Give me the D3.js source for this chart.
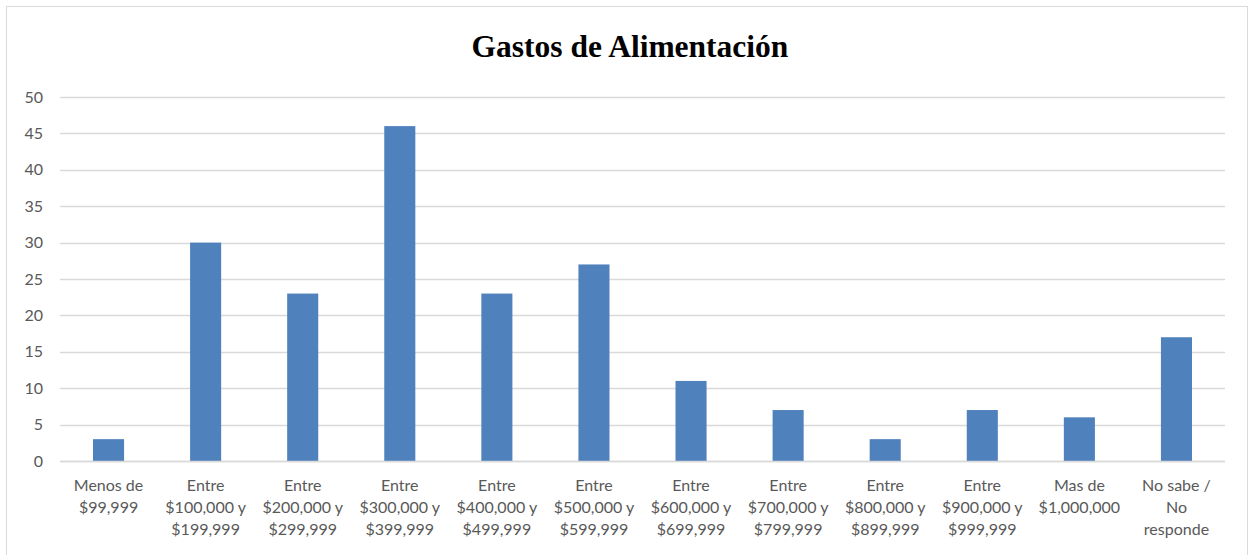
<!DOCTYPE html>
<html lang="es">
<head>
	<meta charset="UTF-8">
	<title>Gastos de Alimentación</title>
	<style>
		body{margin:0;background:#fff;}
	</style>
</head>
<body>
	<script src="https://d3js.org/d3.v7.min.js"></script>
	<script type="text/javascript">
		// datos
		var categorias = [
			["Menos de","$99,999"],
			["Entre","$100,000 y","$199,999"],
			["Entre","$200,000 y","$299,999"],
			["Entre","$300,000 y","$399,999"],
			["Entre","$400,000 y","$499,999"],
			["Entre","$500,000 y","$599,999"],
			["Entre","$600,000 y","$699,999"],
			["Entre","$700,000 y","$799,999"],
			["Entre","$800,000 y","$899,999"],
			["Entre","$900,000 y","$999,999"],
			["Mas de","$1,000,000"],
			["No sabe /","No","responde"]
		];
		var valores = [3, 30, 23, 46, 23, 27, 11, 7, 3, 7, 6, 17];
		var ticks = [0, 5, 10, 15, 20, 25, 30, 35, 40, 45, 50];

		var W = 1252, H = 555;
		var svg = d3.select("body").append("svg").attr("width",W).attr("height",H);

		// borde del grafico
		svg.append("rect").attr("x",6.5).attr("y",6.5).attr("width",1241).attr("height",560)
			.attr("fill","none").attr("stroke","#d9d9d9").attr("stroke-width",1);

		svg.append("text").attr("x",630).attr("y",57).attr("text-anchor","middle")
			.attr("font-family","'Liberation Serif','Times New Roman',serif")
			.attr("font-weight","bold").attr("font-size",31.5).attr("fill","#000")
			.text("Gastos de Alimentación");

		var x = d3.scaleBand().domain(d3.range(categorias.length)).range([60,1225]).paddingInner(0.68).paddingOuter(0.34);
		var y = d3.scaleLinear().domain([0,50]).range([461,97]);

		// lineas de cuadricula
		svg.selectAll(".grid").data(ticks).enter().append("line").attr("class","grid")
			.attr("x1",60).attr("x2",1225)
			.attr("y1",function(d){ return Math.round(y(d))+0.5; })
			.attr("y2",function(d){ return Math.round(y(d))+0.5; })
			.attr("stroke","#d9d9d9").attr("stroke-width",1.3);

		svg.selectAll(".ylab").data(ticks).enter().append("text").attr("class","ylab")
			.attr("x",43).attr("y",function(d){ return y(d)+5.5; })
			.attr("text-anchor","end")
			.attr("font-family","Lato,'Open Sans',sans-serif").attr("font-size",16).attr("fill","#595959")
			.text(function(d){ return d; });

		svg.selectAll(".bar").data(valores).enter().append("rect").attr("class","bar")
			.attr("x",function(d,i){ return x(i); })
			.attr("width",x.bandwidth())
			.attr("y",function(d){ return y(d); })
			.attr("height",function(d){ return y(0)-y(d); })
			.attr("fill","#4f81bd");

		// linea base
		svg.append("line").attr("x1",60).attr("x2",1225).attr("y1",461.5).attr("y2",461.5)
			.attr("stroke","#d9d9d9").attr("stroke-width",1.3);

		var xl = svg.selectAll(".xlab").data(categorias).enter().append("text").attr("class","xlab")
			.attr("text-anchor","middle")
			.attr("font-family","Lato,'Open Sans',sans-serif").attr("font-size",16).attr("fill","#595959");
		xl.selectAll("tspan").data(function(d,i){ return d.map(function(t){ return {t:t,i:i}; }); })
			.enter().append("tspan")
			.attr("x",function(d){ return x(d.i)+x.bandwidth()/2; })
			.attr("y",function(d,j){ return 491+j*22; })
			.text(function(d){ return d.t; });
	</script>
</body>
</html>
